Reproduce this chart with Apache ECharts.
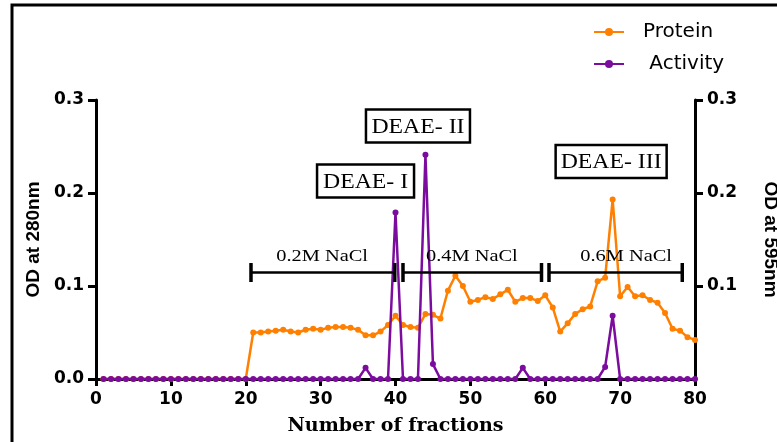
<!DOCTYPE html>
<html><head><meta charset="utf-8">
<script src="https://cdn.jsdelivr.net/npm/echarts@6/dist/echarts.min.js"></script>
<style>html,body{margin:0;padding:0;background:#fff;overflow:hidden}#c{width:777px;height:442px}</style>
</head><body><div id="c"></div>
<script>
const fractions = [1,2,3,4,5,6,7,8,9,10,11,12,13,14,15,16,17,18,19,20,
  21,22,23,24,25,26,27,28,29,30,31,32,33,34,35,36,37,38,39,40,
  41,42,43,44,45,46,47,48,49,50,51,52,53,54,55,56,57,58,59,60,
  61,62,63,64,65,66,67,68,69,70,71,72,73,74,75,76,77,78,79,80];
const protein = [0,0,0,0,0,0,0,0,0,0,0,0,0,0,0,0,0,0,0,0,
  0.050,0.050,0.051,0.052,0.053,0.051,0.050,0.053,0.054,0.053,
  0.055,0.056,0.056,0.055,0.053,0.047,0.047,0.051,0.058,0.068,
  0.058,0.056,0.055,0.070,0.069,0.065,0.095,0.111,0.100,0.083,
  0.085,0.088,0.086,0.091,0.096,0.083,0.087,0.087,0.084,0.090,
  0.077,0.051,0.060,0.070,0.075,0.078,0.105,0.109,0.193,0.089,
  0.099,0.089,0.090,0.085,0.082,0.071,0.054,0.052,0.045,0.042];
const activity = [0,0,0,0,0,0,0,0,0,0,0,0,0,0,0,0,0,0,0,0,
  0,0,0,0,0,0,0,0,0,0,0,0,0,0,0,0.012,0,0,0,0.179,
  0,0,0,0.241,0.016,0,0,0,0,0,0,0,0,0,0,0,0.012,0,0,0,
  0,0,0,0,0,0,0,0.013,0.068,0,0,0,0,0,0,0,0,0,0,0];
const xTicks = [0,10,20,30,40,50,60,70,80];
const yTicks = [0,0.1,0.2,0.3];
const seriesNames = ['Protein', 'Activity'];
const peakLabels = ['DEAE- I', 'DEAE- II', 'DEAE- III'];
const peakAnchors = [[36.0, 0.213], [43.0, 0.272], [68.8, 0.234]];
const naclLabels = ['0.2M NaCl', '0.4M NaCl', '0.6M NaCl'];
const naclRanges = [[20.7, 39.9], [41.0, 59.5], [60.5, 78.3]];
const naclLabelX = [30.2, 50.2, 70.8];
const naclLevel = 0.1145;

const chart = echarts.init(document.getElementById('c'), null, {renderer: 'canvas'});
const tickFont = {fontFamily: 'DejaVu Sans', fontWeight: 'bold', fontSize: 17, color: '#000'};
function yAxisCfg(pos, name) {
  return {
    type: 'value', position: pos, min: yTicks[0], max: yTicks[yTicks.length - 1], interval: 0.1,
    axisLine: {show: true, lineStyle: {color: '#000', width: 3}},
    axisTick: {show: true, length: 8, lineStyle: {color: '#000', width: 3}},
    axisLabel: Object.assign({margin: 12, formatter: v => v.toFixed(1), showMinLabel: pos === 'left'}, tickFont),
    splitLine: {show: false},
    name: name, nameLocation: 'middle',
    nameGap: pos === 'left' ? 51 : 66,
    nameRotate: pos === 'left' ? 90 : -90,
    nameTextStyle: {fontFamily: 'Liberation Sans', fontWeight: 'bold', fontSize: 19, color: '#000'}
  };
}
chart.setOption({
  animation: false,
  backgroundColor: '#fff',
  grid: {left: 96, right: 82, top: 100, bottom: 63, containLabel: false, outerBoundsMode: 'none'},
  legend: {
    orient: 'vertical', left: 593, top: 22, padding: 0, itemWidth: 30, itemHeight: 10, itemGap: 12,
    data: [{name: seriesNames[0]}, {name: seriesNames[1]}],
    formatter: n => n === 'Activity' ? ' ' + n : n,
    textStyle: {fontFamily: 'DejaVu Sans', fontSize: 20, color: '#000', lineHeight: 20, padding: [0, 0, 0, 14]}
  },
  xAxis: {
    type: 'value', min: xTicks[0], max: xTicks[xTicks.length - 1], interval: 10,
    axisLine: {show: true, onZero: false, lineStyle: {color: '#000', width: 3}},
    axisTick: {show: true, length: 7, lineStyle: {color: '#000', width: 3}},
    axisLabel: Object.assign({margin: 12}, tickFont),
    splitLine: {show: false},
    name: 'Number of fractions', nameLocation: 'middle', nameGap: 38,
    nameTextStyle: {fontFamily: 'DejaVu Serif', fontWeight: 'bold', fontSize: 19, color: '#000'}
  },
  yAxis: [yAxisCfg('left', 'OD at 280nm'), yAxisCfg('right', 'OD at 595nm')],
  series: [
    {
      name: seriesNames[0], type: 'line', yAxisIndex: 0, z: 2,
      data: fractions.map((f, i) => [f, protein[i]]),
      color: '#FF8000', symbol: 'circle', symbolSize: 6,
      lineStyle: {width: 2.5, color: '#FF8000'}, itemStyle: {color: '#FF8000'}
    },
    {
      name: seriesNames[1], type: 'line', yAxisIndex: 1, z: 3,
      data: fractions.map((f, i) => [f, activity[i]]),
      color: '#7B0C9E', symbol: 'circle', symbolSize: 6,
      lineStyle: {width: 2.5, color: '#7B0C9E'}, itemStyle: {color: '#7B0C9E'}
    }
  ]
});

function px(pt) { return chart.convertToPixel({gridIndex: 0}, pt); }
const g = [];
g.push({type: 'rect', shape: {x: 12, y: 5, width: 900, height: 600},
  style: {fill: 'none', stroke: '#000', lineWidth: 3}, z: 100});
naclRanges.forEach((r, i) => {
  const a = px([r[0], naclLevel]), b = px([r[1], naclLevel]);
  g.push({type: 'line', shape: {x1: a[0], y1: a[1], x2: b[0], y2: b[1]}, style: {stroke: '#000', lineWidth: 2.5}, z: 50});
  [a, b].forEach(p => g.push({type: 'line', shape: {x1: p[0], y1: p[1] - 9.5, x2: p[0], y2: p[1] + 9.5}, style: {stroke: '#000', lineWidth: 3.5}, z: 50}));
  const t = px([naclLabelX[i], naclLevel]);
  g.push({type: 'text', x: t[0], y: t[1] - 16, scaleX: 1.2, z: 51,
    style: {text: naclLabels[i], font: '17px "Liberation Serif"', fill: '#000', align: 'center', verticalAlign: 'middle'}});
});
const boxW = [97, 104, 111];
peakLabels.forEach((lab, i) => {
  const c = px(peakAnchors[i]);
  g.push({type: 'rect', shape: {x: c[0] - boxW[i] / 2, y: c[1] - 16.5, width: boxW[i], height: 33},
    style: {fill: '#fff', stroke: '#000', lineWidth: 2.5}, z: 60});
  g.push({type: 'text', x: c[0], y: c[1] + 1, scaleX: 1.08, z: 61,
    style: {text: lab, font: '22px "Liberation Serif"', fill: '#000', align: 'center', verticalAlign: 'middle'}});
});
chart.setOption({graphic: g});
</script></body></html>
